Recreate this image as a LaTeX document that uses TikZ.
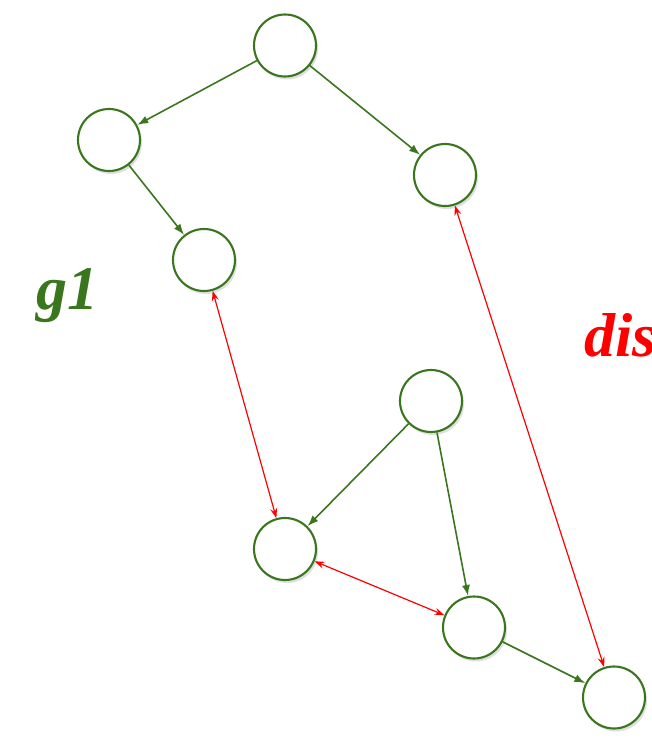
\documentclass[tikz,border=0pt]{standalone}
\usepackage{fontspec}
\setmainfont{Liberation Serif}
\usetikzlibrary{arrows.meta,shadows}
\definecolor{gr}{RGB}{58,118,30}
\begin{document}
\begin{tikzpicture}[x=1pt,y=-1pt,
  vert/.style={circle,draw=gr,line width=2.1pt,fill=white,minimum size=62pt,inner sep=0pt,
    drop shadow={shadow xshift=2pt,shadow yshift=-3pt,opacity=0.25}},
  garr/.style={draw=gr,line width=1.6pt,-{Latex[length=11pt,width=8pt]}},
  rarr/.style={draw=red,line width=1.2pt,{Stealth[length=10pt,width=7pt,inset=3.5pt]}-{Stealth[length=10pt,width=7pt,inset=3.5pt]}},
  lbl/.style={font=\fontsize{62}{62}\selectfont\bfseries\itshape,inner sep=0pt,anchor=base west}]
\useasboundingbox (0,0) rectangle (651,746);
\node[vert] (A) at (285,45.5) {};
\node[vert] (B) at (109,140) {};
\node[vert] (C) at (445,175) {};
\node[vert] (D) at (204,260) {};
\node[vert] (E) at (431,401) {};
\node[vert] (F) at (285,549) {};
\node[vert] (G) at (474,627.5) {};
\node[vert] (H) at (614,697.5) {};
\draw[garr] (A) -- (B);
\draw[garr] (A) -- (C);
\draw[garr] (B) -- (D);
\draw[garr] (E) -- (F);
\draw[garr] (E) -- (G);
\draw[garr] (G) -- (H);
\draw[rarr] (D) -- (F);
\draw[rarr] (F) -- (G);
\draw[rarr] (C) -- (H);
\node[lbl,text=gr] (g1) at (36,309) {g1};
\node[lbl,text=red] (dis) at (584,356) {dis};
\end{tikzpicture}
\end{document}
